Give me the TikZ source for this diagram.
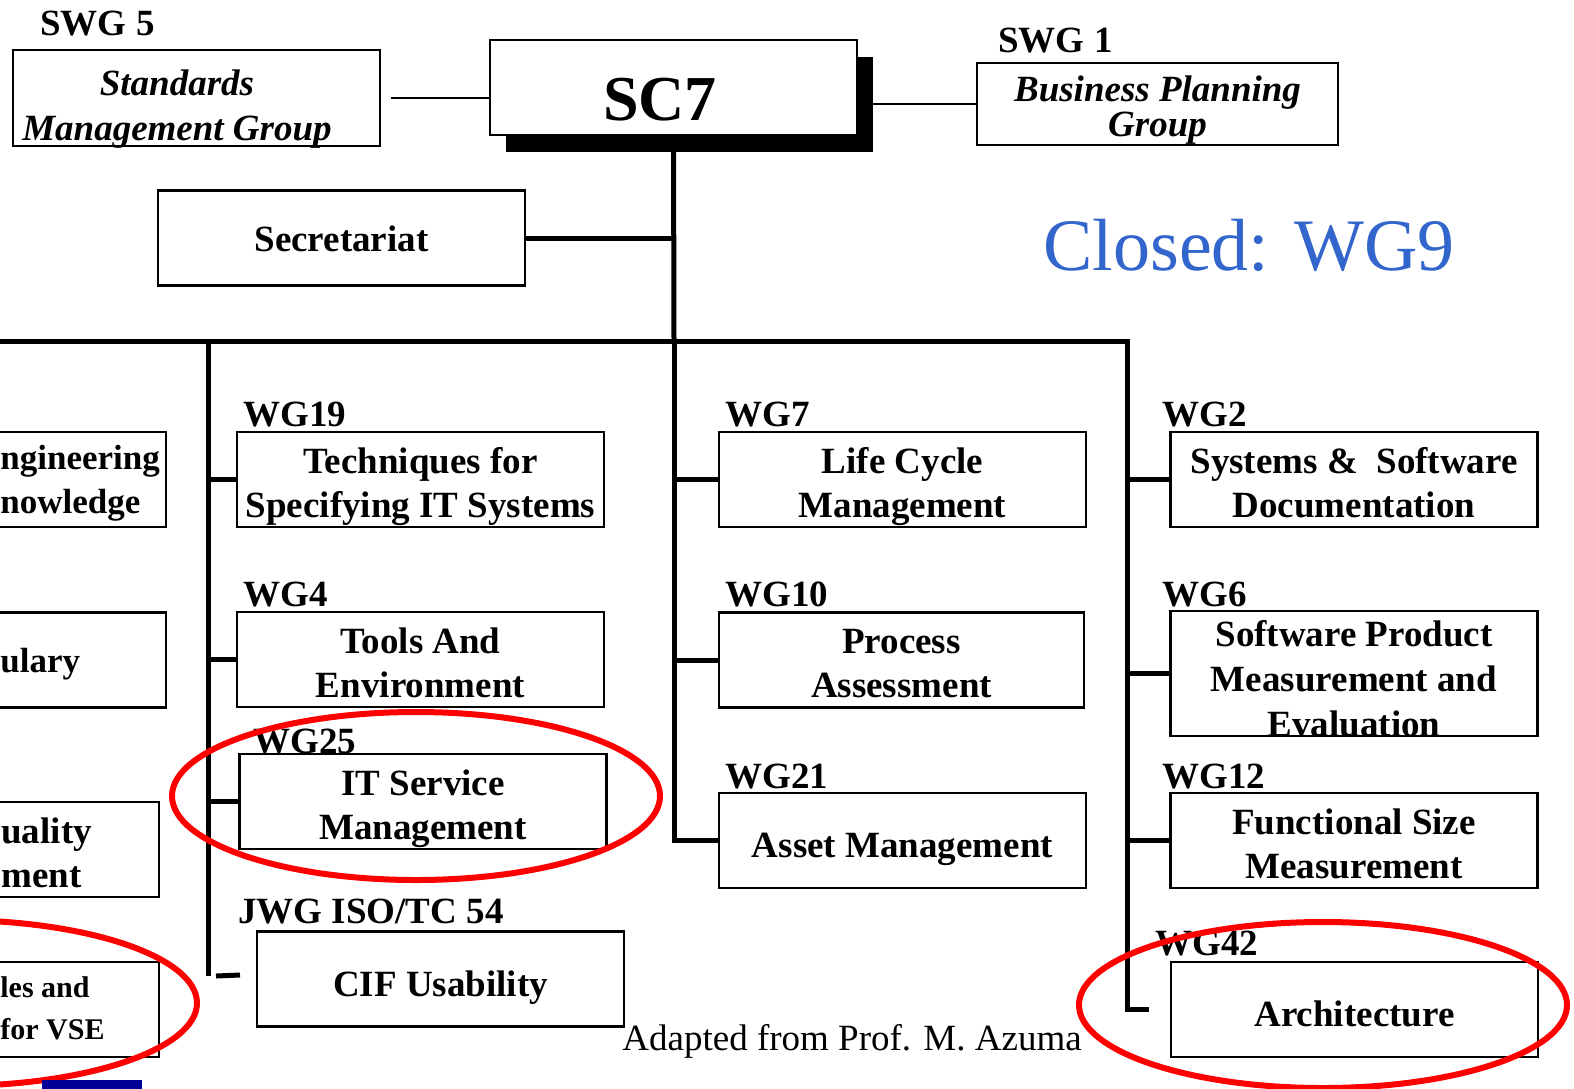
\documentclass[tikz,border=0pt]{standalone}
\usepackage{fontspec}
\setmainfont{Liberation Serif}
\usepackage{xcolor}
\usepackage{tikz}
\usetikzlibrary{shadows}

\definecolor{closedblue}{HTML}{3366CC}
\definecolor{markred}{HTML}{FF0000}
\definecolor{barblue}{HTML}{000099}

\begin{document}
\begin{tikzpicture}[x=0.5pt, y=-0.5pt]
    \tikzstyle{wgbox} = [rectangle, draw, fill=white, line width=1.2pt, minimum width=183.5pt, minimum height=47.5pt, inner sep=0pt, align=center, text height=37.5pt, text depth=0pt, font=\fontsize{18.5}{22}\selectfont\bfseries]
    \tikzstyle{oneline} = [text height=17pt, text depth=0pt]
    \tikzstyle{groupbox} = [rectangle, draw, fill=white, line width=1.1pt, minimum width=183.5pt, minimum height=48pt, inner sep=0pt, align=center, font=\fontsize{18.5}{22.5}\selectfont\bfseries\itshape]
    \tikzstyle{tag} = [anchor=base west, inner sep=0pt, font=\fontsize{18.5}{22}\selectfont\bfseries]
    \tikzstyle{cuttext} = [anchor=west, inner sep=0pt, align=left, font=\fontsize{18.5}{22}\selectfont\bfseries]
    \tikzstyle{link} = [draw, line width=2.5pt]
    \tikzstyle{thinlink} = [draw, line width=1pt]
    \tikzstyle{ring} = [draw=markred, line width=3pt]

    \clip (0,0) rectangle (1574,1088);
    \fill[white] (0,0) rectangle (1574,1088);

    % top level
    \node [wgbox, line width=1pt, drop shadow={shadow xshift=8pt, shadow yshift=-8.5pt, fill=black, opacity=1}] (sc7) at (673.5,87.5) {};
    \node [inner sep=0pt, font=\fontsize{32}{36}\selectfont\bfseries] (sc7text) at (660,100) {SC7};

    \node [tag] (swg5) at (40,35) {SWG 5};
    \node [groupbox] (smg) at (196.5,98) {};
    \node [inner sep=0pt, align=center, font=\fontsize{18.5}{22.5}\selectfont\bfseries\itshape] (smgtext) at (177,109) {Standards\\Management Group};

    \node [tag] (swg1) at (998,52) {SWG 1};
    \node [groupbox, minimum width=180.5pt, minimum height=41pt, text height=32.2pt, text depth=0pt, font=\fontsize{18.5}{17.5}\selectfont\bfseries\itshape] (bpg) at (1157.5,104) {Business Planning\\Group};

    \node [wgbox, text height=13pt, text depth=0pt] (sec) at (341.5,238) {Secretariat};

    \node [anchor=base west, inner sep=0pt, text=closedblue, font=\fontsize{37}{44}\selectfont] (closed) at (1043,270) {Closed: WG9};

    % bus and branch points
    \coordinate (busw) at (0,341);
    \coordinate (col2) at (208,341);
    \coordinate (col3) at (674,341);
    \coordinate (col4) at (1127,341);
    \coordinate (col2end) at (208,976);
    \coordinate (cifstub) at (240,975);

    % boxes running off the left edge
    \node [wgbox, anchor=east] (ske) at (167,479.5) {};
    \node [wgbox, anchor=east] (voc) at (167,660) {};
    \node [wgbox, anchor=east] (qm) at (160,849.5) {};
    \node [wgbox, anchor=east] (vse) at (160,1009.5) {};
    \node [cuttext, font=\fontsize{17.5}{22}\selectfont\bfseries] (sketext) at (0,483) {ngineering\\nowledge};
    \node [cuttext, font=\fontsize{17.5}{22}\selectfont\bfseries] (voctext) at (0,664) {ulary};
    \node [cuttext] (qmtext) at (1,853) {uality\\ment};
    \node [cuttext, font=\fontsize{15}{21}\selectfont\bfseries] (vsetext) at (0,1008) {les and\\for VSE};

    % second column
    \node [tag] (wg19t) at (243,426) {WG19};
    \node [wgbox] (wg19) at (420.5,479.5) {Techniques for\\Specifying IT Systems};
    \node [tag] (wg4t) at (243,606) {WG4};
    \node [wgbox] (wg4) at (420.5,659.5) {Tools And\\Environment};
    \node [tag] (wg25t) at (253,753) {WG25};
    \node [wgbox] (wg25) at (423,801.5) {IT Service\\Management};
    \node [tag] (jwgt) at (238,923) {JWG ISO/TC 54};
    \node [wgbox, oneline] (cif) at (440.5,979) {CIF Usability};

    % third column
    \node [tag] (wg7t) at (725,426) {WG7};
    \node [wgbox] (wg7) at (902.5,479.5) {Life Cycle\\Management};
    \node [tag] (wg10t) at (725,606) {WG10};
    \node [wgbox, minimum width=182.5pt] (wg10) at (901.5,660) {Process\\Assessment};
    \node [tag] (wg21t) at (725,788) {WG21};
    \node [wgbox, oneline] (wg21) at (902.5,840.5) {Asset Management};

    % fourth column
    \node [tag] (wg2t) at (1162,426) {WG2};
    \node [wgbox] (wg2) at (1354,479.5) {Systems \& \ Software\\Documentation};
    \node [tag] (wg6t) at (1162,606) {WG6};
    \node [wgbox, minimum height=61.5pt, text height=62.5pt, font=\fontsize{18.5}{22.5}\selectfont\bfseries] (wg6) at (1354,673.5) {Software Product\\Measurement and\\Evaluation};
    \node [tag] (wg12t) at (1162,788) {WG12};
    \node [wgbox] (wg12) at (1354,840.5) {Functional Size\\Measurement};
    \node [tag] (wg42t) at (1155,955) {WG42};
    \node [wgbox, oneline] (wg42) at (1354.5,1009.5) {Architecture};

    \node [anchor=base west, inner sep=0pt, font=\fontsize{18.5}{22}\selectfont] (credit) at (622,1050) {Adapted from Prof. M. Azuma};

    % connectors
    \path [thinlink] ([xshift=5pt]smg.east) -- (smg.east -| sc7.west);
    \path [thinlink] (bpg.west) -- (bpg.west -| sc7.east);
    \path [link] (sc7.south) -- (col3);
    \path [link] (sec.east) -- (sec.east -| col3);
    \path [link] (busw) -- (col4) -- (col4 |- wg42.west) -- ([xshift=-10.5pt]wg42.west);
    \path [link] (col2) -- (col2end);
    \path [link] ([xshift=4pt]col2end) -- (cifstub);
    \path [link] (col3) -- (col3 |- wg21.west) -- (wg21.west);
    \foreach \n in {wg19, wg4, wg25}
        \path [link] (\n.west) -- (\n.west -| col2);
    \foreach \n in {wg7, wg10}
        \path [link] (\n.west) -- (\n.west -| col3);
    \foreach \n in {wg2, wg6, wg12}
        \path [link] (\n.west) -- (\n.west -| col4);

    % red marks
    \draw [ring] (416,796) ellipse [x radius=122pt, y radius=42pt];
    \draw [ring] (-47,1003) ellipse [x radius=122pt, y radius=41.5pt];
    \draw [ring] (1323,1005) ellipse [x radius=122pt, y radius=41.5pt];

    \fill [barblue] (42,1080) rectangle (142,1090);
\end{tikzpicture}
\end{document}
